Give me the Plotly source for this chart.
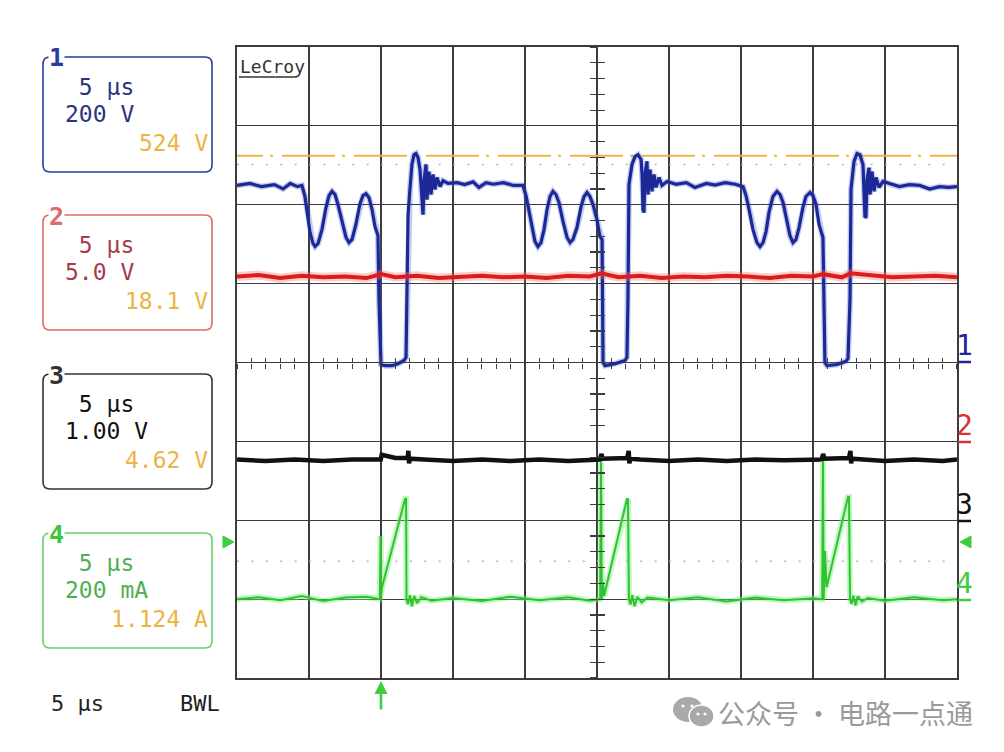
import plotly.graph_objects as go

# ---------------- data ----------------
# time base: 5 us/div, 10 divisions
TIME_RANGE = [0, 50]

# CH1 : drain voltage, 200 V/div, ground at centre
ch1_t = [0.0, 0.9, 1.7, 2.6, 3.2, 3.7, 4.2, 4.51,
         4.72, 4.93, 5.07, 5.28, 5.42, 5.63, 5.90, 6.18, 6.39, 6.60, 6.81, 7.01, 7.29, 7.57,
         7.78, 7.99, 8.26, 8.54, 8.75, 8.96, 9.17, 9.38, 9.58, 9.79, 9.86, 10.0,
         10.28, 10.76, 11.18, 11.6, 11.74, 11.81, 11.88, 12.01, 12.15, 12.29, 12.43, 12.57,
         12.71, 12.78, 12.92, 12.99, 13.13, 13.19, 13.33, 13.47, 13.61, 13.75, 13.89, 14.1,
         14.31, 14.65, 15.3, 15.8, 16.4, 16.8, 17.3, 17.8, 18.5, 19.2,
         19.86, 20.07, 20.28, 20.49, 20.69, 20.90, 21.11, 21.32, 21.53, 21.74, 21.94, 22.15,
         22.36, 22.64, 22.92, 23.13, 23.33, 23.61, 23.89, 24.10, 24.31, 24.51, 24.72, 25.00,
         25.21, 25.35, 25.42, 25.56,
         26.25, 26.94, 27.08, 27.15, 27.22, 27.43, 27.64, 27.85, 28.06, 28.13, 28.19, 28.26,
         28.33, 28.47, 28.54, 28.68, 28.82, 28.96, 29.10, 29.31, 29.51, 29.86, 30.5, 31.2,
         31.8, 32.6, 33.2, 33.9, 34.6,
         35.14, 35.35, 35.56, 35.83, 36.11, 36.32, 36.53, 36.74, 36.94, 37.22, 37.50, 37.71,
         37.92, 38.19, 38.40, 38.61, 38.82, 39.03, 39.31, 39.51, 39.79, 40.00, 40.21, 40.42,
         40.63, 40.69, 40.83, 40.97, 41.67,
         42.29, 42.43, 42.57, 42.64, 42.85, 43.06, 43.26, 43.47, 43.54, 43.61, 43.68, 43.75,
         43.89, 43.96, 44.10, 44.24, 44.38, 44.58, 44.86, 45.5, 46.0, 46.7, 47.4, 48.1,
         48.8, 49.4, 50.0]
ch1_v = [449, 454, 446, 451, 440, 454, 446, 449,
         421, 370, 330, 302, 294, 302, 337, 393, 423, 434, 426, 401, 357, 317,
         304, 312, 350, 403, 423, 428, 418, 388, 345, 322, 160, -5,
         -8, -8, -3, 5, 13, 160, 375, 439, 502, 527, 530, 520,
         489, 451, 375, 464, 502, 413, 484, 426, 477, 439, 469, 446,
         461, 454, 456, 451, 458, 444, 456, 452, 456, 449,
         449, 423, 383, 337, 307, 294, 304, 337, 388, 421, 434, 426,
         406, 357, 317, 304, 312, 342, 395, 421, 431, 421, 401, 362,
         319, 312, 0, -8,
         -3, 5, 13, 160, 451, 502, 522, 527, 515, 477, 388, 380,
         477, 510, 426, 489, 434, 477, 444, 469, 449, 459, 452, 456,
         444, 454, 450, 456, 452,
         446, 423, 388, 337, 304, 294, 304, 332, 380, 421, 434, 426,
         406, 362, 322, 304, 312, 342, 395, 421, 431, 423, 401, 350,
         324, 317, 0, -8, -5,
         3, 10, 160, 439, 510, 530, 527, 502, 439, 368, 370, 464,
         494, 426, 484, 434, 469, 444, 459, 451, 446, 451, 449, 440,
         446, 444, 446]

# CH2 : gate drive, 5.0 V/div, ground one division below centre
ch2_t = [0, 1.5, 3, 4.5, 6, 7.5, 9, 10, 11, 12.5, 14, 15.5, 17, 18.5, 20, 21.5, 23, 24.5,
         25.3, 26.5, 28, 29.5, 31, 32.5, 34, 35.5, 37, 38.5, 40, 40.7, 42, 42.6, 44, 45.5,
         47, 48.5, 50]
ch2_v = [10.45, 10.55, 10.35, 10.5, 10.4, 10.45, 10.35, 10.6, 10.4, 10.5, 10.35, 10.45, 10.5,
         10.4, 10.45, 10.35, 10.5, 10.45, 10.65, 10.4, 10.5, 10.35, 10.45, 10.4, 10.5, 10.45,
         10.35, 10.5, 10.45, 10.6, 10.4, 10.65, 10.5, 10.4, 10.45, 10.5, 10.4]

# CH3 : 1.00 V/div, ground two divisions below centre
ch3_t = [0, 2, 4, 6, 8, 9.5, 9.98, 10.05, 11.0, 11.85, 11.9, 11.95, 12.0, 13, 15, 17, 19, 21,
         23, 25.2, 25.3, 25.4, 26.5, 27.1, 27.2, 27.25, 27.3, 28, 30, 32, 34, 36, 38, 40.6,
         40.7, 40.8, 41.8, 42.5, 42.6, 42.65, 42.7, 43.5, 45, 47, 49, 50]
ch3_v = [0.77, 0.75, 0.77, 0.75, 0.77, 0.76, 0.77, 0.83, 0.79, 0.79, 0.88, 0.72, 0.78, 0.77,
         0.75, 0.77, 0.75, 0.77, 0.75, 0.77, 0.84, 0.78, 0.78, 0.79, 0.88, 0.72, 0.78, 0.77,
         0.75, 0.77, 0.75, 0.77, 0.76, 0.77, 0.84, 0.78, 0.78, 0.79, 0.88, 0.72, 0.78, 0.77,
         0.75, 0.77, 0.75, 0.77]

# CH4 : current, 200 mA/div, ground three divisions below centre
ch4_t = [0, 1.5, 3, 4.5, 6, 7.5, 9, 9.92, 9.97, 10.0, 10.07, 11.67, 11.74, 11.77, 11.88, 12.01,
         12.15, 12.3, 12.5, 12.8, 13.5, 15, 17, 19, 21, 23, 24.5, 25.22, 25.28, 25.33, 25.42,
         25.49, 27.08, 27.15, 27.22, 27.33, 27.45, 27.6, 27.8, 28.1, 28.5, 30, 32, 34, 36, 38,
         40.0, 40.64, 40.69, 40.74, 40.83, 40.94, 42.43, 42.5, 42.57, 42.68, 42.8, 42.95,
         43.1, 43.4, 43.8, 45, 47, 49, 50]
ch4_v = [0, 5, -3, 8, -5, 4, 6, 0, 160, 8, 30, 254, 254, 0, -13, 10,
         -18, 8, -10, 5, -4, 3, -5, 6, -3, 5, -4, 0, 347, 0, 43,
         8, 254, 254, 0, -14, 10, -18, 6, -8, 4, -3, 5, -6, 4, -3,
         2, 0, 350, 0, 122, 30, 259, 259, 0, -12, 9, -16,
         7, -6, 3, -4, 5, -3, 0]

CURSOR_CH1_V = 524      # orange dash-dot cursor
DOTTED_CH1_V = 502      # grey dotted reference
DOTTED_CH4_MA = 96      # grey dotted reference (ch4)
TRIGGER_T = 10          # trigger position (us)

panel_rows = [
    ("1", "#2b3a9e", "#2a3380", [" 5 µs", "200 V"], "524 V"),
    ("2", "#e06a6a", "#a83a48", [" 5 µs", "5.0 V"], "18.1 V"),
    ("3", "#333333", "#111111", [" 5 µs", "1.00 V"], "4.62 V"),
    ("4", "#66d166", "#4fae4f", [" 5 µs", "200 mA"], "1.124 A"),
]

# ---------------- figure ----------------
W, H = 1004, 752
L, R, T, B = 237, 47, 47, 74
PW, PH = W - L - R, H - T - B


def px(x, y):
    return (x - L) / PW, (H - B - y) / PH


def rrect(x0, y0, x1, y1, r):
    def P(x, y):
        a, b = px(x, y)
        return f"{a:.5f},{b:.5f}"
    return (f"M{P(x0 + r, y0)} L{P(x1 - r, y0)} Q{P(x1, y0)} {P(x1, y0 + r)} "
            f"L{P(x1, y1 - r)} Q{P(x1, y1)} {P(x1 - r, y1)} L{P(x0 + r, y1)} "
            f"Q{P(x0, y1)} {P(x0, y1 - r)} L{P(x0, y0 + r)} Q{P(x0, y0)} {P(x0 + r, y0)} Z")


fig = go.Figure()

BLUE = "#1c2896"
RED = "#dd1c1c"
BLACK = "#111111"
GREEN = "#2fc42f"
ORANGE = "#ecb444"

# cursors
fig.add_trace(go.Scatter(x=[-1.875, 50], y=[CURSOR_CH1_V] * 2, mode="lines", yaxis="y",
                         line=dict(color=ORANGE, width=2, dash="53px,7px,3px,9px")))
fig.add_trace(go.Scatter(x=[0, 50], y=[DOTTED_CH1_V] * 2, mode="lines", yaxis="y",
                         line=dict(color="#b5b5b5", width=1.6, dash="2px,12.4px")))
fig.add_trace(go.Scatter(x=[0, 50], y=[DOTTED_CH4_MA] * 2, mode="lines", yaxis="y4",
                         line=dict(color="#b5b5b5", width=1.6, dash="2px,12.4px")))

# halos
fig.add_trace(go.Scatter(x=ch2_t, y=ch2_v, yaxis="y2", mode="lines",
                         line=dict(color="rgba(240,110,110,0.35)", width=9)))
fig.add_trace(go.Scatter(x=ch4_t, y=ch4_v, yaxis="y4", mode="lines",
                         line=dict(color="rgba(120,235,120,0.45)", width=6)))
fig.add_trace(go.Scatter(x=ch1_t, y=ch1_v, yaxis="y", mode="lines",
                         line=dict(color="rgba(70,95,215,0.32)", width=6)))

# traces
fig.add_trace(go.Scatter(x=ch2_t, y=ch2_v, yaxis="y2", mode="lines",
                         line=dict(color=RED, width=4)))
fig.add_trace(go.Scatter(x=ch3_t, y=ch3_v, yaxis="y3", mode="lines",
                         line=dict(color=BLACK, width=4.5)))
fig.add_trace(go.Scatter(x=ch4_t, y=ch4_v, yaxis="y4", mode="lines",
                         line=dict(color=GREEN, width=2)))
fig.add_trace(go.Scatter(x=ch1_t, y=ch1_v, yaxis="y", mode="lines",
                         line=dict(color=BLUE, width=3.2)))

# helper traces to register the centre tick axes
for xa, ya in [("x2", "y5"), ("x3", "y6")]:
    fig.add_trace(go.Scatter(x=[None], y=[None], xaxis=xa, yaxis=ya, mode="lines",
                             hoverinfo="skip"))

GRID = "#3c3c3c"
hidden = dict(visible=False, showgrid=False, zeroline=False, fixedrange=True)
fig.update_layout(
    width=W, height=H, margin=dict(l=L, r=R, t=T, b=B, pad=0),
    paper_bgcolor="white", plot_bgcolor="white", showlegend=False, hovermode=False,
    xaxis=dict(range=TIME_RANGE, dtick=5, showgrid=True, gridcolor=GRID, gridwidth=1.2,
               showline=True, mirror=True, linecolor=GRID, linewidth=1.6,
               showticklabels=False, ticks="", zeroline=False),
    yaxis=dict(range=[-800, 800], dtick=200, showgrid=True, gridcolor=GRID, gridwidth=1.2,
               showline=True, mirror=True, linecolor=GRID, linewidth=1.6,
               showticklabels=False, ticks="", zeroline=False),
    yaxis2=dict(range=[-15, 25], overlaying="y", **hidden),
    yaxis3=dict(range=[-2, 6], overlaying="y", **hidden),
    yaxis4=dict(range=[-200, 1400], overlaying="y", **hidden),
    xaxis2=dict(range=TIME_RANGE, overlaying="x", anchor="free", position=0.5, dtick=1,
                ticks="outside", ticklen=5, tickwidth=1.2, tickcolor=GRID, showline=False,
                showgrid=False, zeroline=False, showticklabels=False),
    xaxis3=dict(range=TIME_RANGE, overlaying="x", anchor="free", position=0.5, dtick=1,
                ticks="inside", ticklen=5, tickwidth=1.2, tickcolor=GRID, showline=False,
                showgrid=False, zeroline=False, showticklabels=False),
    yaxis5=dict(range=[-800, 800], overlaying="y", anchor="free", position=0.5, dtick=40,
                ticks="outside", ticklen=7, tickwidth=1.2, tickcolor=GRID, showline=False,
                showgrid=False, zeroline=False, showticklabels=False),
    yaxis6=dict(range=[-800, 800], overlaying="y", anchor="free", position=0.5, dtick=40,
                ticks="inside", ticklen=7, tickwidth=1.2, tickcolor=GRID, showline=False,
                showgrid=False, zeroline=False, showticklabels=False),
)

shapes = []
annotations = []
MONO = "DejaVu Sans Mono"

box_tops = [57, 215, 374, 533]
for (ch, bcol, tcol, lines, val), top in zip(panel_rows, box_tops):
    shapes.append(dict(type="path", xref="paper", yref="paper", path=rrect(43, top, 212, top + 115, 7),
                       line=dict(color=bcol, width=1.6), fillcolor="rgba(0,0,0,0)"))
    cx, cy = px(56, top + 1)
    annotations.append(dict(x=cx, y=cy, xref="paper", yref="paper", text=f"<b>{ch}</b>",
                            showarrow=False,
                            font=dict(family=MONO, size=25, color=bcol if ch != "4" else "#3fc43f"),
                            bgcolor="white", xanchor="center", yanchor="middle", borderpad=0))
    for i, s in enumerate(lines):
        ax_, ay_ = px(63, top + 30 + 27 * i)
        annotations.append(dict(x=ax_, y=ay_, xref="paper", yref="paper", text=s, showarrow=False,
                                font=dict(family=MONO, size=23, color=tcol),
                                xanchor="left", yanchor="middle"))
    vx, vy = px(210, top + 86)
    annotations.append(dict(x=vx, y=vy, xref="paper", yref="paper", text=val, showarrow=False,
                            font=dict(family=MONO, size=23, color=ORANGE),
                            xanchor="right", yanchor="middle"))

for s, x in [("5 µs", 49), ("BWL", 178)]:
    a, b = px(x, 703)
    annotations.append(dict(x=a, y=b, xref="paper", yref="paper", text=s, showarrow=False,
                            font=dict(family=MONO, size=22, color="#222222"),
                            xanchor="left", yanchor="middle"))

a, b = px(238, 66)
annotations.append(dict(x=a, y=b, xref="paper", yref="paper", text="LeCroy", showarrow=False,
                        font=dict(family=MONO, size=18, color="#333333"),
                        xanchor="left", yanchor="middle"))
p0, p1 = px(239, 77), px(297, 77)
shapes.append(dict(type="line", xref="paper", yref="paper", x0=p0[0], y0=p0[1], x1=p1[0], y1=p1[1],
                   line=dict(color="#333333", width=1.6)))

for ch, col, gy in [("1", BLUE, 362), ("2", "#dd3030", 442), ("3", BLACK, 521), ("4", "#3fcc3f", 600)]:
    a, b = px(964, gy - 17)
    annotations.append(dict(x=a, y=b, xref="paper", yref="paper", text=ch, showarrow=False,
                            font=dict(family=MONO, size=28, color=col),
                            xanchor="center", yanchor="middle"))
    p0, p1 = px(958, gy), px(971, gy)
    shapes.append(dict(type="line", xref="paper", yref="paper", x0=p0[0], y0=p0[1], x1=p1[0], y1=p1[1],
                       line=dict(color=col, width=2.5)))


def tri(pts, col):
    d = "M" + " L".join(f"{px(x, y)[0]:.5f},{px(x, y)[1]:.5f}" for x, y in pts) + " Z"
    return dict(type="path", xref="paper", yref="paper", path=d, fillcolor=col,
                line=dict(color=col, width=1))


shapes.append(tri([(223, 536), (234, 542), (223, 548)], "#3fcc3f"))
shapes.append(tri([(971, 536), (960, 542), (971, 548)], "#3fcc3f"))

annotations.append(dict(x=TRIGGER_T, y=0, xref="x", yref="paper", text="", showarrow=True,
                        ax=0, ay=30, arrowhead=2, arrowsize=1, arrowwidth=2.6,
                        arrowcolor="#3fcc3f", yshift=-3))

# watermark
shapes.append(dict(type="circle", xref="paper", yref="paper",
                   x0=px(673, 0)[0], x1=px(703, 0)[0], y0=px(0, 697)[1], y1=px(0, 722)[1],
                   fillcolor="#a9a9a9", line=dict(width=0)))
shapes.append(dict(type="circle", xref="paper", yref="paper",
                   x0=px(689, 0)[0], x1=px(714, 0)[0], y0=px(0, 705)[1], y1=px(0, 727)[1],
                   fillcolor="#a9a9a9", line=dict(color="white", width=1.5)))
for ex, ey in [(683, 706), (692, 706), (698, 714), (705, 714)]:
    shapes.append(dict(type="circle", xref="paper", yref="paper",
                       x0=px(ex - 1.6, 0)[0], x1=px(ex + 1.6, 0)[0],
                       y0=px(0, ey - 1.6)[1], y1=px(0, ey + 1.6)[1],
                       fillcolor="white", line=dict(width=0)))
a, b = px(716, 712)
annotations.append(dict(x=a, y=b, xref="paper", yref="paper", text="公众号 · 电路一点通",
                        showarrow=False, font=dict(family="Noto Sans CJK SC", size=27, color="#9a9a9a"),
                        xanchor="left", yanchor="middle"))

fig.update_layout(shapes=shapes, annotations=annotations)
fig.write_html("out.html", config={"displayModeBar": False, "staticPlot": True},
               post_script="document.body.style.margin='0';document.body.style.overflow='hidden';")
